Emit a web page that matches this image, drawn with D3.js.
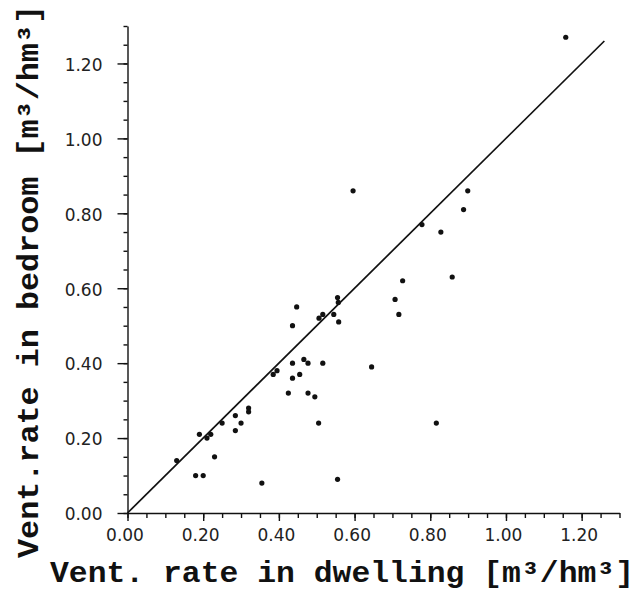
<!DOCTYPE html>
<html>
<head>
<meta charset="UTF-8">
<style>
  body { margin: 0; background: #fff; }
  svg { display: block; }
  .tick text { font: 17px "DejaVu Sans", sans-serif; fill: #222; }
  .axis path, .axis line { stroke: #111; stroke-width: 1.4px; }
  .title { font: bold 29px "Liberation Mono", "DejaVu Sans Mono", monospace; fill: #111; }
</style>
</head>
<body>
<script src="https://d3js.org/d3.v7.min.js"></script>
<script>
  // values
  var dwelling = [0.13, 0.18, 0.20, 0.19, 0.21, 0.22, 0.23, 0.25, 0.285, 0.285, 0.30, 0.32, 0.32,
                  0.355, 0.385, 0.395, 0.425, 0.436, 0.436, 0.436, 0.447, 0.455, 0.466, 0.477, 0.477,
                  0.495, 0.505, 0.516, 0.506, 0.516, 0.545, 0.558, 0.555, 0.557, 0.555, 0.596, 0.645,
                  0.707, 0.717, 0.727, 0.778, 0.816, 0.828, 0.858, 0.888, 0.899, 1.158];
  var bedroom  = [0.14, 0.10, 0.10, 0.21, 0.20, 0.21, 0.15, 0.24, 0.26, 0.22, 0.24, 0.28, 0.27,
                  0.08, 0.37, 0.38, 0.32, 0.40, 0.36, 0.50, 0.55, 0.37, 0.41, 0.40, 0.32,
                  0.31, 0.24, 0.40, 0.52, 0.53, 0.53, 0.51, 0.575, 0.562, 0.09, 0.86, 0.39,
                  0.57, 0.53, 0.62, 0.77, 0.24, 0.75, 0.63, 0.81, 0.86, 1.27];
  var majorTicks = [0, 0.2, 0.4, 0.6, 0.8, 1.0, 1.2];
  var minorTicks = d3.range(0, 27).map(function(i){ return +(i * 0.05).toFixed(2); });
  var lineEnd = 1.26;

  var width = 644, height = 594;
  var x = d3.scaleLinear().domain([0, 1.3]).range([127.5, 619.5]);
  var y = d3.scaleLinear().domain([0, 1.3]).range([513, 26]);

  var svg = d3.select('body').append('svg').attr('width', width).attr('height', height);

  // minor ticks
  svg.append('g').attr('class', 'axis').attr('transform', 'translate(0,' + y(0) + ')')
    .call(d3.axisBottom(x).tickValues(minorTicks).tickSize(5).tickSizeOuter(0).tickFormat(''));
  svg.append('g').attr('class', 'axis').attr('transform', 'translate(' + x(0) + ',0)')
    .call(d3.axisLeft(y).tickValues(minorTicks).tickSize(4).tickSizeOuter(0).tickFormat(''));

  // major ticks + labels
  var gx = svg.append('g').attr('class', 'axis').attr('transform', 'translate(0,' + y(0) + ')')
    .call(d3.axisBottom(x).tickValues(majorTicks).tickSize(8).tickSizeOuter(0).tickFormat(d3.format('.2f')));
  gx.select('.domain').remove();
  gx.selectAll('text').attr('y', 28).attr('dy', 0).attr('dx', -3);

  var gy = svg.append('g').attr('class', 'axis').attr('transform', 'translate(' + x(0) + ',0)')
    .call(d3.axisLeft(y).tickValues(majorTicks).tickSize(10).tickSizeOuter(0).tickFormat(d3.format('.2f')));
  gy.select('.domain').remove();
  gy.selectAll('text').attr('x', -25).attr('dy', '0.4em');

  // 1:1 line
  svg.append('line')
    .attr('x1', x(0)).attr('y1', y(0))
    .attr('x2', x(lineEnd)).attr('y2', y(lineEnd))
    .attr('stroke', '#111').attr('stroke-width', 1.7);

  // points
  svg.append('g').selectAll('circle')
    .data(dwelling.map(function(d, i){ return [d, bedroom[i]]; }))
    .enter().append('circle')
      .attr('cx', function(d){ return x(d[0]); })
      .attr('cy', function(d){ return y(d[1]); })
      .attr('r', 2.6)
      .attr('fill', '#111');

  // axis titles
  svg.append('text').attr('class', 'title')
    .attr('x', 50).attr('y', 582)
    .attr('textLength', 584).attr('lengthAdjust', 'spacingAndGlyphs')
    .text('Vent. rate in dwelling [m³/hm³]');

  svg.append('text').attr('class', 'title')
    .attr('transform', 'translate(38,558) rotate(-90)')
    .attr('textLength', 553).attr('lengthAdjust', 'spacingAndGlyphs')
    .text('Vent.rate in bedroom [m³/hm³]');
</script>
</body>
</html>
